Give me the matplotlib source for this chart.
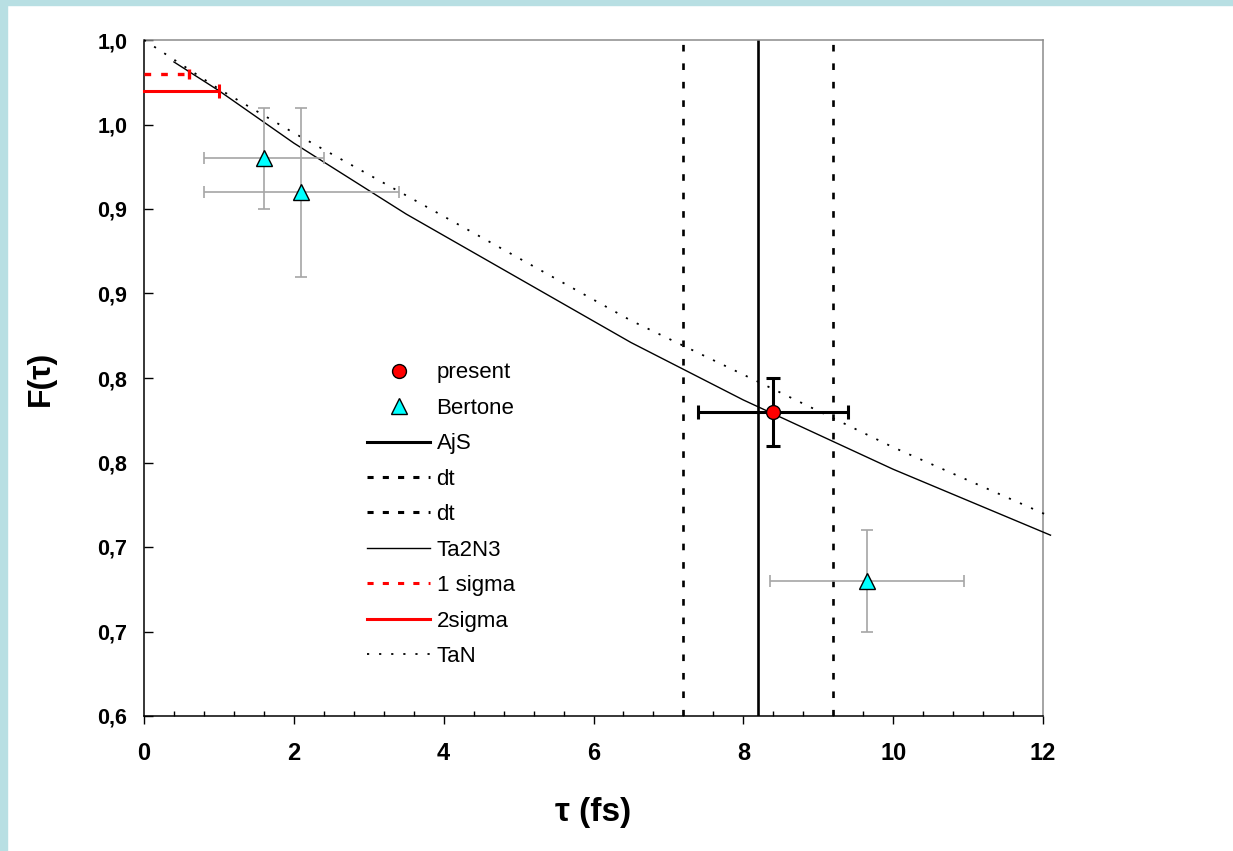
import math
import matplotlib
matplotlib.use('Agg')
import matplotlib.pyplot as plt
from matplotlib.lines import Line2D
from matplotlib.patches import Rectangle
from matplotlib.ticker import FuncFormatter, MultipleLocator

plt.rcParams['font.family'] = ['Liberation Sans', 'DejaVu Sans']

# present measurement
present_x = [8.4]
present_y = [0.78]
present_xerr = [1.0]
present_yerr = [0.02]

# Bertone data
bertone_x = [1.6, 2.1, 9.65]
bertone_y = [0.93, 0.91, 0.68]
bertone_xerr = [0.8, 1.3, 1.3]
bertone_yerr = [0.03, 0.05, 0.03]

# lifetime limits
ajs_x = 8.2
dt_x = [7.2, 9.2]

# sigma limits (from tau = 0)
sigma1_y = 0.98
sigma1_x = [0.0, 0.6]
sigma2_y = 0.97
sigma2_x = [0.0, 1.0]

# stopping curves
ta2n3_x = [0.4, 1.0, 2.0, 3.5, 5.0, 6.5, 8.0, 10.0, 12.1]
ta2n3_y = [0.987, 0.970, 0.939, 0.897, 0.859, 0.821, 0.787, 0.746, 0.707]
tan_x = [0.0, 1.0, 2.0, 3.5, 5.0, 6.5, 8.0, 10.0, 12.1]
tan_y = [1.0, 0.971, 0.945, 0.908, 0.871, 0.834, 0.802, 0.759, 0.718]

fig = plt.figure(figsize=(12.33, 8.51), dpi=100)
fig.patches.append(Rectangle((0, 1 - 5 / 851), 1, 5 / 851, transform=fig.transFigure,
                             color='#b8dfe3', zorder=0))
fig.patches.append(Rectangle((0, 0), 7 / 1233, 1, transform=fig.transFigure,
                             color='#b8dfe3', zorder=0))
ax = fig.add_axes([144 / 1233, 1 - 716 / 851, 899 / 1233, 676 / 851])

# vertical lines
ax.axvline(ajs_x, color='black', lw=1.9, zorder=2)
for x in dt_x:
    ax.axvline(x, color='black', lw=1.9, dashes=(2.5, 4.5), zorder=2)

# curves
ax.plot(ta2n3_x, ta2n3_y, color='black', lw=1.0, clip_on=False, zorder=3)
ax.plot(tan_x, tan_y, color='black', lw=1.3, dashes=(1.2, 5.5), clip_on=False, zorder=3)

# sigma lines
ax.plot(sigma1_x, [sigma1_y] * 2, color='red', lw=2.4, dashes=(2, 3), clip_on=False, zorder=4)
ax.plot(sigma1_x[1], sigma1_y, marker='|', color='red', ms=7, mew=2.4, zorder=4)
ax.plot(sigma2_x, [sigma2_y] * 2, color='red', lw=2.2, clip_on=False, zorder=4)
ax.plot(sigma2_x[1], sigma2_y, marker='|', color='red', ms=10, mew=2.2, zorder=4)

# data with error bars
ax.errorbar(bertone_x, bertone_y, xerr=bertone_xerr, yerr=bertone_yerr, fmt='none',
            ecolor='#a6a6a6', elinewidth=1.2, capsize=4, capthick=1.2, zorder=5)
ax.plot(bertone_x, bertone_y, ls='none', marker='^', ms=11, mfc='#00ffff', mec='black',
        mew=1.0, zorder=6)
ax.errorbar(present_x, present_y, xerr=present_xerr, yerr=present_yerr, fmt='none',
            ecolor='black', elinewidth=2.2, capsize=5, capthick=2.2, zorder=7)
ax.plot(present_x, present_y, ls='none', marker='o', ms=10, mfc='red', mec='black',
        mew=1.0, zorder=8)

ax.set_xlim(0, 12)
ax.set_ylim(0.6, 1.0)
ax.xaxis.set_major_locator(MultipleLocator(2))
ax.xaxis.set_minor_locator(MultipleLocator(0.4))
ax.yaxis.set_major_locator(MultipleLocator(0.05))


def excel_fmt(v, pos):
    r = math.floor(v * 10 + 0.5 + 1e-9) / 10
    return f'{r:.1f}'.replace('.', ',')


ax.yaxis.set_major_formatter(FuncFormatter(excel_fmt))

ax.tick_params(axis='y', which='major', direction='in', length=6.5, width=1.0,
               labelsize=15.5, pad=12, right=False)
ax.tick_params(axis='x', which='major', direction='out', length=6, width=1.0,
               labelsize=17, pad=13, top=False)
ax.tick_params(axis='x', which='minor', direction='in', length=3.5, width=1.0, top=False)
for lab in ax.get_yticklabels():
    lab.set_fontweight('bold')
for lab in ax.get_xticklabels():
    lab.set_fontweight('bold')

for side in ['left', 'bottom']:
    ax.spines[side].set_color('black')
    ax.spines[side].set_linewidth(1.1)
for side in ['top', 'right']:
    ax.spines[side].set_color('#8c8c8c')
    ax.spines[side].set_linewidth(1.1)

ax.set_xlabel('τ (fs)', fontsize=24, fontweight='bold', labelpad=23)
ax.set_ylabel('F(τ)', fontsize=23, fontweight='bold', labelpad=30)

handles = [
    Line2D([], [], ls='none', marker='o', ms=10, mfc='red', mec='black', mew=1.0),
    Line2D([], [], ls='none', marker='^', ms=11, mfc='#00ffff', mec='black', mew=1.0),
    Line2D([], [], color='black', lw=2.2),
    Line2D([], [], color='black', lw=2.2, dashes=(2, 3)),
    Line2D([], [], color='black', lw=2.2, dashes=(2, 3)),
    Line2D([], [], color='black', lw=1.0),
    Line2D([], [], color='red', lw=2.2, dashes=(2, 3)),
    Line2D([], [], color='red', lw=2.2),
    Line2D([], [], color='black', lw=1.3, dashes=(1.2, 5.5)),
]
labels = ['present', 'Bertone', 'AjS', 'dt', 'dt', 'Ta2N3', '1 sigma', '2sigma', 'TaN']
ax.legend(handles, labels, loc='upper left', bbox_to_anchor=(0.248, 0.523),
          frameon=False, fontsize=16, handlelength=2.85, handletextpad=0.28,
          borderpad=0, borderaxespad=0, labelspacing=0.65)

fig.savefig('out.png', dpi=100)
